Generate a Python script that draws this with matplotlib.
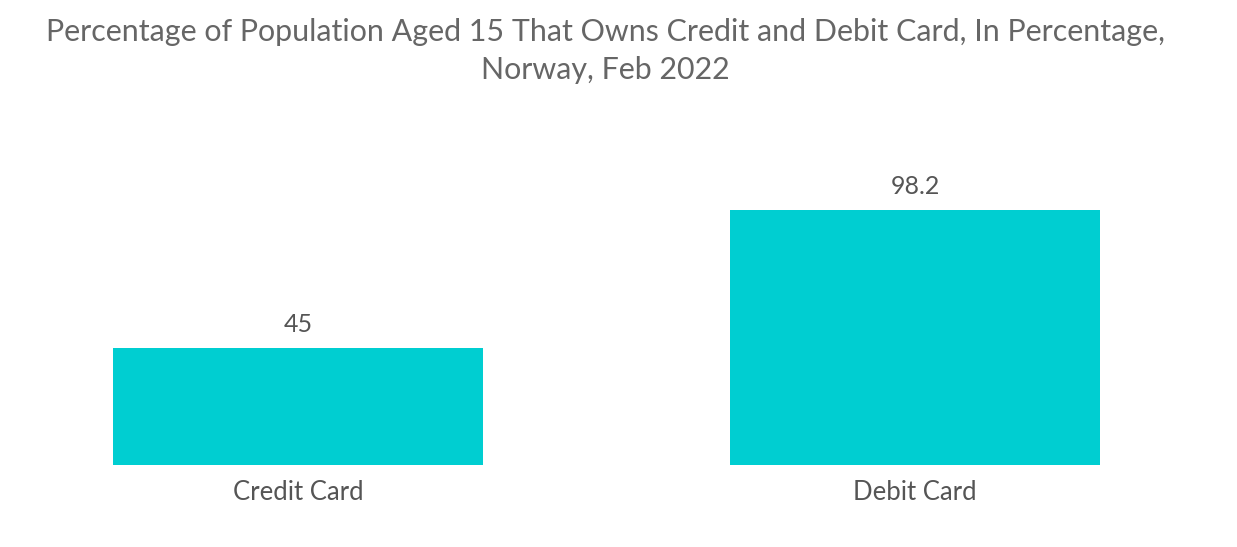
import matplotlib
matplotlib.use("Agg")
import matplotlib.pyplot as plt

# dados
categorias = ["Credit Card", "Debit Card"]
valores = [45, 98.2]
rotulos = ["45", "98.2"]

cor_barra = "#00CED1"
cor_texto = "#555555"

plt.rcParams['font.family'] = ['Lato', 'DejaVu Sans']

fig = plt.figure(figsize=(12.37, 5.47), dpi=100)
ax = fig.add_axes([0, 82 / 547, 1, 345 / 547])

pos = list(range(len(categorias)))
barras = ax.bar(pos, valores, width=0.601, color=cor_barra)

for b, r in zip(barras, rotulos):
    ax.text(b.get_x() + b.get_width() / 2, b.get_height() + 4.5, r,
            ha='center', va='bottom', fontsize=18, color=cor_texto)

ax.set_xlim(-298 / 617, (1237 - 298) / 617)
ax.set_ylim(0, 132.7)
ax.set_xticks(pos)
ax.set_xticklabels(categorias, fontsize=18.5, color=cor_texto)
ax.tick_params(axis='x', length=0, pad=11)
ax.set_yticks([])
for s in ax.spines.values():
    s.set_visible(False)

fig.text(605 / 1237, 1 - 51 / 547,
         "Percentage of Population Aged 15 That Owns Credit and Debit Card, In Percentage,\nNorway, Feb 2022",
         ha='center', va='center', fontsize=21.9, color="#666666", linespacing=1.4)

fig.savefig("out.png", dpi=100)
